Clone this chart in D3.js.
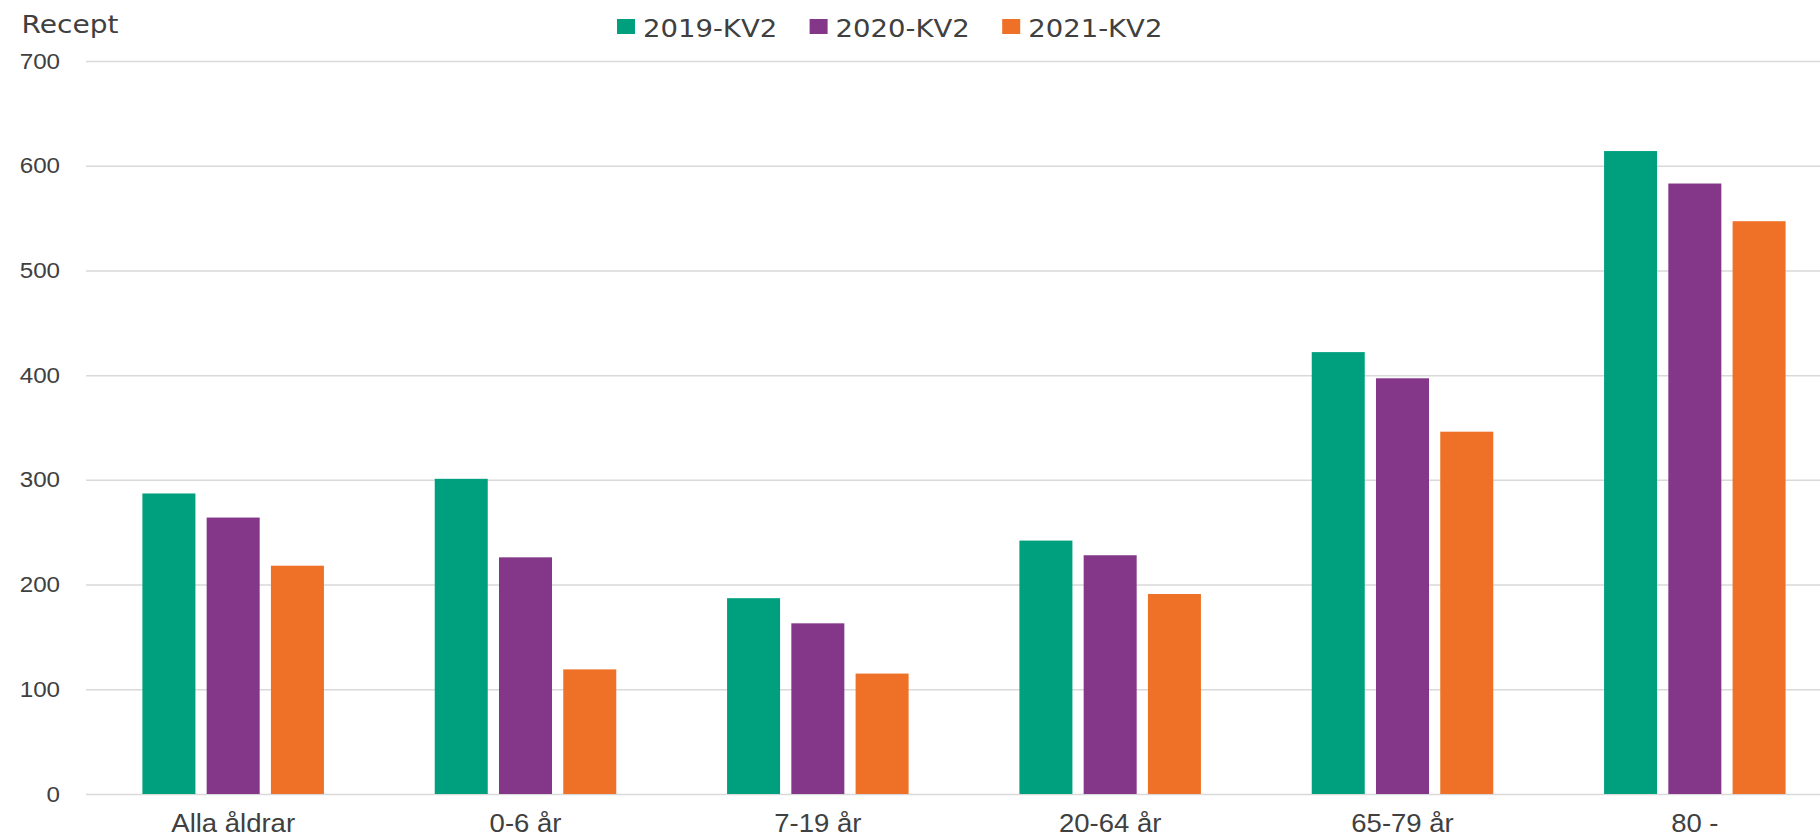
<!DOCTYPE html>
<html>
<head>
<meta charset="utf-8">
<script src="https://cdn.jsdelivr.net/npm/d3@7"></script>
<style>
	body { margin: 0; background: #fff; }
	svg { display: block; font-family: "DejaVu Sans", Verdana, sans-serif; }
	.axis .domain { display: none; }
	.axis text { fill: #404040; }
</style>
</head>
<body>
<script>

// age groups on the x-axis
var categories = ["Alla åldrar", "0-6 år", "7-19 år", "20-64 år", "65-79 år", "80 -"];

// series names (legend)
var series = ["2019-KV2", "2020-KV2", "2021-KV2"];

// values per series, same order as categories
var values2019 = [287, 301, 187, 242, 422, 614];
var values2020 = [264, 226, 163, 228, 397, 583];
var values2021 = [218, 119, 115, 191, 346, 547];

// y-axis ticks
var yTicks = [0, 100, 200, 300, 400, 500, 600, 700];

var colors = ["#00a07f", "#843689", "#ee7127"];

// build rows for the grouped bars
var allValues = [values2019, values2020, values2021];
var rows = categories.map(function(c, i) {
	return series.map(function(s, j) {
		return {category: c, series: s, value: allValues[j][i]};
	});
});

// size of the picture and the plot area
// (window.top is reserved, so use a margin object)
var width = 1820, height = 837;
var plot = {left: 87, right: 1841, top: 61, bottom: 794};

// text in the reference is a bit wider than normal
var stretch = "scale(1.1,1)";

var svg = d3.select("body")
	.append("svg")
	.attr("width", width)
	.attr("height", height);

// scales
var x0 = d3.scaleBand()
	.domain(categories)
	.range([plot.left, plot.right]);

var x1 = d3.scaleBand()
	.domain(series)
	.range([55.4, x0.bandwidth() - 55.4])
	.paddingInner(0.175);

var y = d3.scaleLinear()
	.domain([0, 700])
	.range([plot.bottom, plot.top]);

var color = d3.scaleOrdinal()
	.domain(series)
	.range(colors);

// y-axis with gridlines
var yAxis = svg.append("g")
	.attr("class", "axis")
	.attr("transform", "translate(" + (plot.left - 1) + ",0)")
	.call(d3.axisLeft(y)
		.tickValues(yTicks)
		.tickSize(-(plot.right - plot.left + 1))
		.tickPadding(23.6));

yAxis.selectAll(".tick line")
	.attr("stroke", "#d9d9d9")
	.attr("stroke-width", 1.5);

yAxis.selectAll(".tick text")
	.style("font-size", "22px")
	.attr("transform", stretch);

// bars
var groups = svg.selectAll(".group")
	.data(rows)
	.enter()
	.append("g")
	.attr("class", "group")
	.attr("transform", function(d) { return "translate(" + x0(d[0].category) + ",0)"; });

groups.selectAll("rect")
	.data(function(d) { return d; })
	.enter()
	.append("rect")
	.attr("x", function(d) { return x1(d.series); })
	.attr("y", function(d) { return y(d.value); })
	.attr("width", x1.bandwidth())
	.attr("height", function(d) { return y(0) - y(d.value); })
	.attr("fill", function(d) { return color(d.series); });

// x-axis labels
var xAxis = svg.append("g")
	.attr("class", "axis")
	.attr("transform", "translate(0," + plot.bottom + ")")
	.call(d3.axisBottom(x0).tickSize(0).tickPadding(20));

xAxis.selectAll(".tick text")
	.style("font-size", "25px")
	.attr("transform", stretch);

// y-axis title
svg.append("text")
	.attr("transform", "translate(21.5,32.7) " + stretch)
	.style("font-size", "25.5px")
	.attr("fill", "#404040")
	.text("Recept");

// legend
var legend = svg.selectAll(".legend")
	.data(series)
	.enter()
	.append("g")
	.attr("class", "legend")
	.attr("transform", function(d, i) { return "translate(" + (617 + i * 192.6) + ",0)"; });

legend.append("rect")
	.attr("y", 19)
	.attr("width", 18)
	.attr("height", 15)
	.attr("fill", function(d) { return color(d); });

legend.append("text")
	.attr("transform", "translate(26,36.7) " + stretch)
	.style("font-size", "25px")
	.attr("fill", "#404040")
	.text(function(d) { return d; });

</script>
</body>
</html>
